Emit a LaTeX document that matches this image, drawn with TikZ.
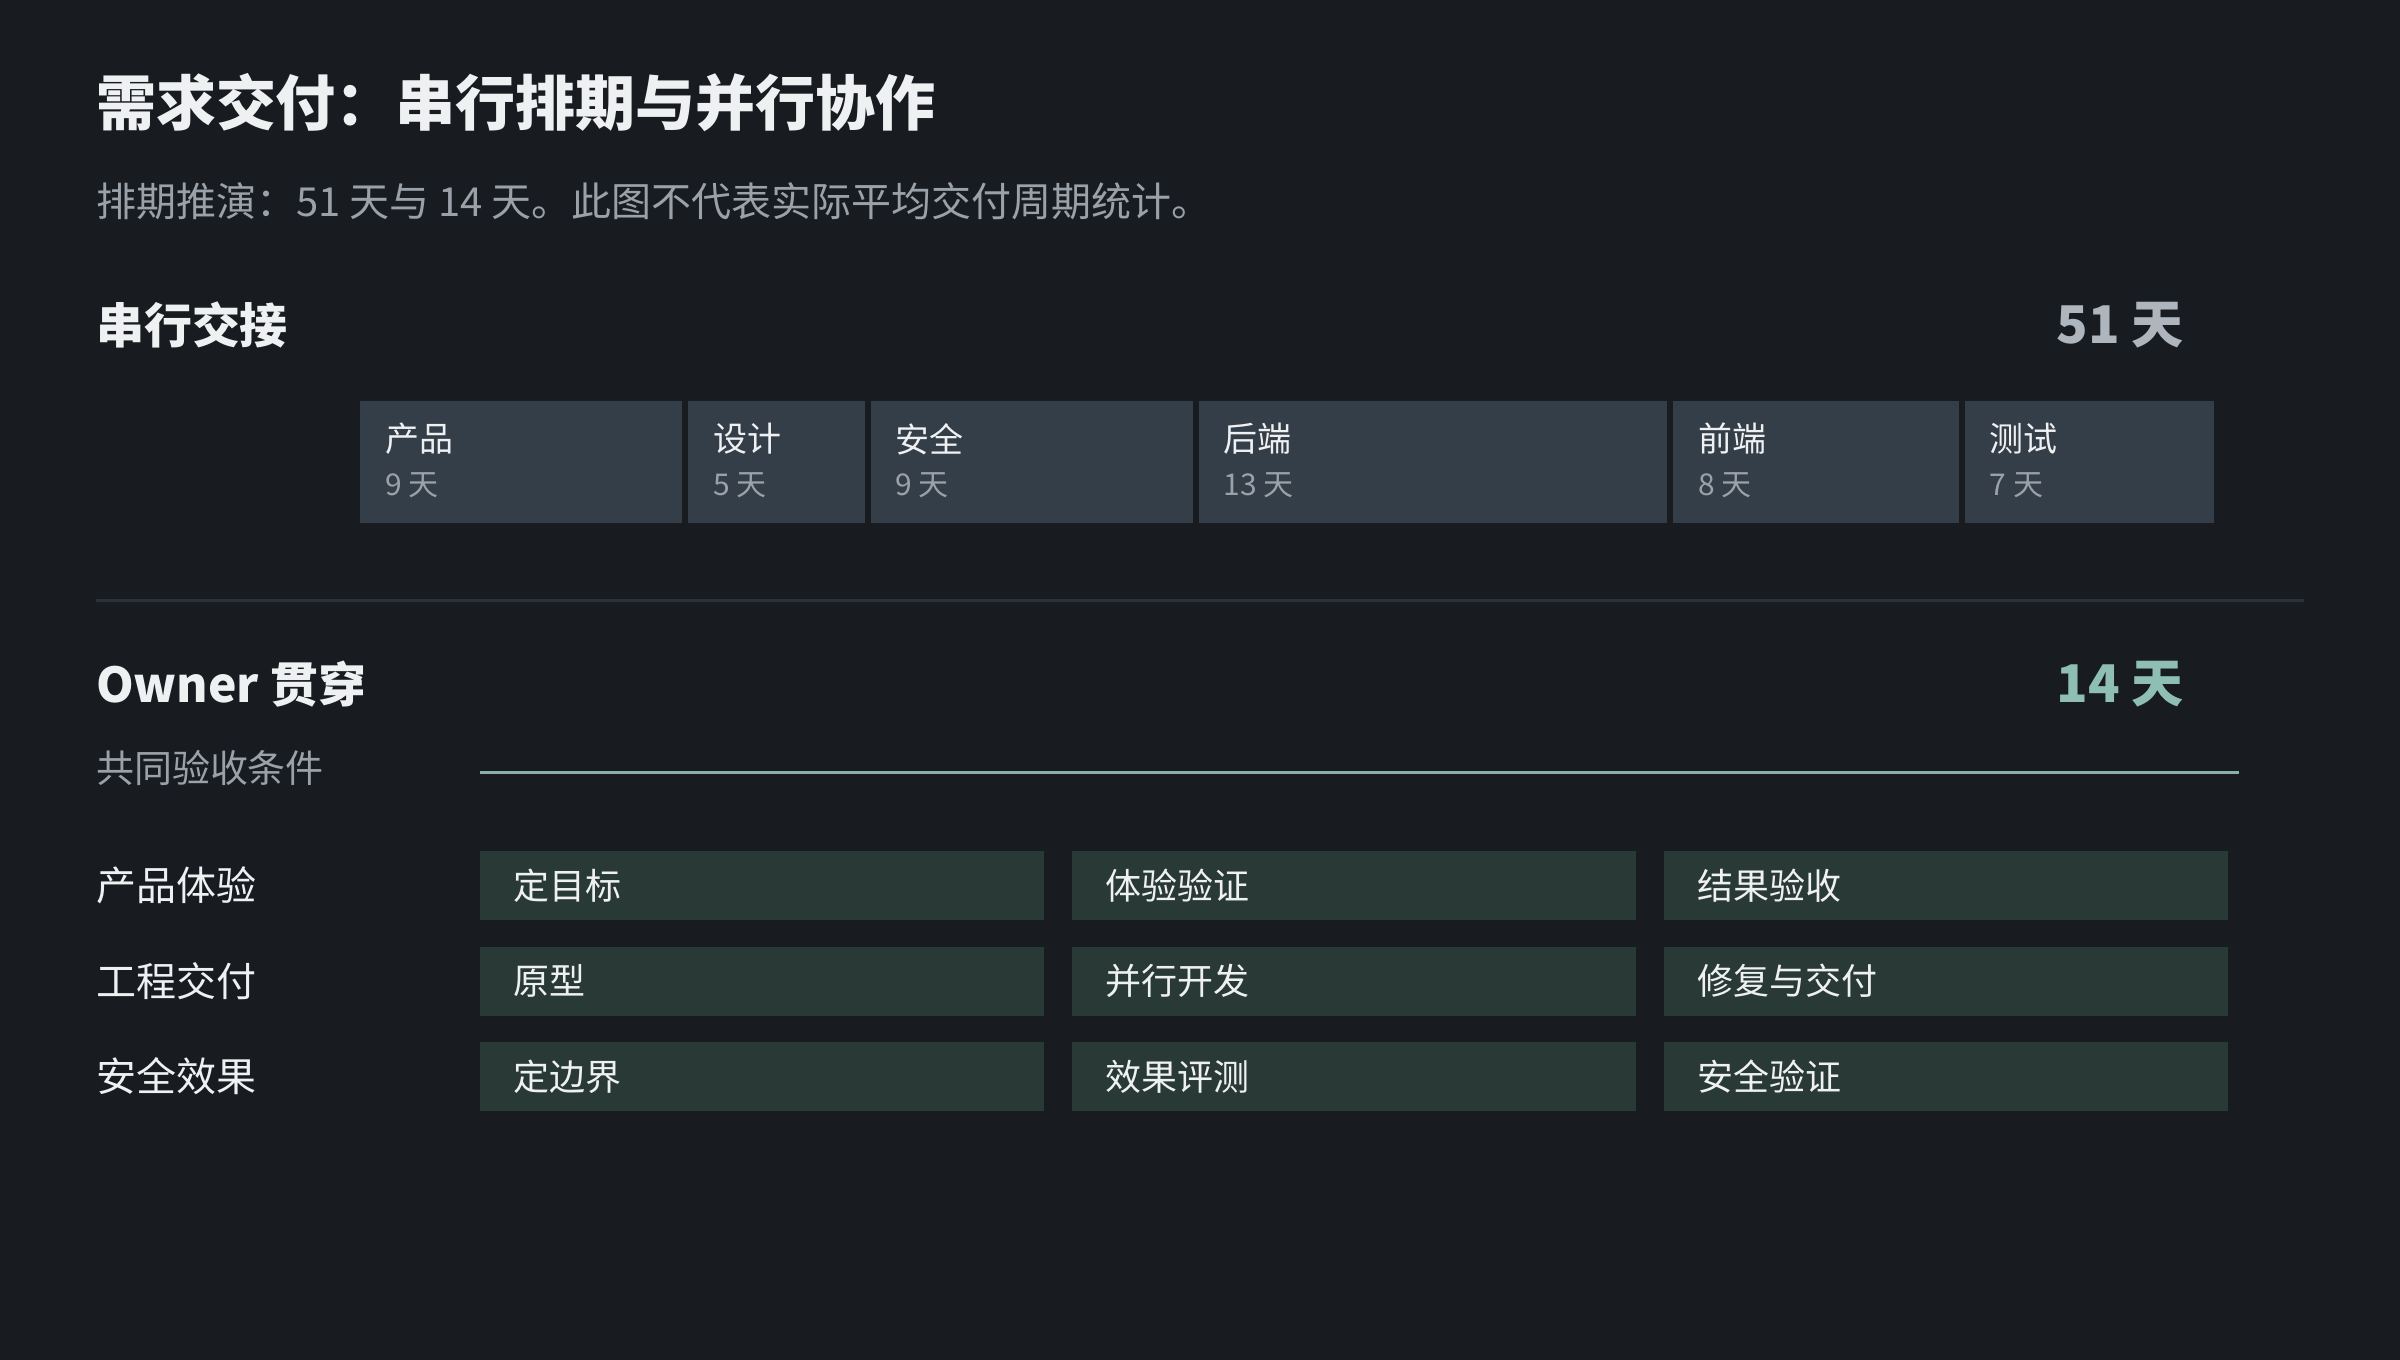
\documentclass[tikz,border=0pt]{standalone}
\usepackage{fontspec}
\setmainfont{Noto Sans CJK SC}
\usetikzlibrary{positioning}
\definecolor{bgcolor}{HTML}{181B20}
\definecolor{inkcolor}{HTML}{EEF0F2}
\definecolor{mutedcolor}{HTML}{9AA1A8}
\definecolor{totalcolor}{HTML}{AEB5BC}
\definecolor{segcolor}{HTML}{343E48}
\definecolor{rulecolor}{HTML}{2C3138}
\definecolor{tealcolor}{HTML}{8FBFB4}
\definecolor{cellcolor}{HTML}{293935}

\begin{document}
\begin{tikzpicture}[x=0.5pt,y=-0.5pt,
  every node/.style={inner sep=0pt, outer sep=0pt, text=inkcolor},
  heading/.style={anchor=west, font=\fontsize{24pt}{28pt}\selectfont\bfseries},
  total/.style={anchor=east, font=\fontsize{26pt}{30pt}\selectfont\bfseries},
  seg/.style={fill=segcolor, minimum height=61pt},
  segname/.style={anchor=west, font=\fontsize{17pt}{20pt}\selectfont},
  segdays/.style={anchor=west, text=mutedcolor, font=\fontsize{15pt}{18pt}\selectfont},
  rowlabel/.style={anchor=west, font=\fontsize{20pt}{24pt}\selectfont},
  cell/.style={fill=cellcolor, minimum height=34.5pt, text width=249pt, inner xsep=16.5pt, align=left, font=\fontsize{18pt}{22pt}\selectfont}]
  % canvas
  \fill[bgcolor] (0,0) rectangle (2400,1360);
  \useasboundingbox (0,0) rectangle (2400,1360);
  % title
  \node[anchor=west, font=\fontsize{30pt}{36pt}\selectfont\bfseries] (title) at (96,103) {需求交付：串行排期与并行协作};
  \node[anchor=west, text=mutedcolor, font=\fontsize{20pt}{24pt}\selectfont] (subtitle) at (96,201) {排期推演：51 天与 14 天。此图不代表实际平均交付周期统计。};
  % serial handoff
  \node[heading] (serial) at (96,325) {串行交接};
  \node[total, text=totalcolor] (serialtotal) at (2184,325) {51 天};
  \node[seg, anchor=north west, minimum width=161.1pt] (prod) at (360,401) {};
  \node[seg, minimum width=88.2pt, right=3pt of prod] (design) {};
  \node[seg, minimum width=161.1pt, right=3pt of design] (sec) {};
  \node[seg, minimum width=234.1pt, right=3pt of sec] (back) {};
  \node[seg, minimum width=142.9pt, right=3pt of back] (front) {};
  \node[seg, minimum width=124.6pt, right=3pt of front] (test) {};
  \node[segname] (prodname) at ([shift={(25,38)}]prod.north west) {产品};
  \node[segdays] (proddays) at ([shift={(25,84)}]prod.north west) {9 天};
  \node[segname] (designname) at ([shift={(25,38)}]design.north west) {设计};
  \node[segdays] (designdays) at ([shift={(25,84)}]design.north west) {5 天};
  \node[segname] (secname) at ([shift={(25,38)}]sec.north west) {安全};
  \node[segdays] (secdays) at ([shift={(25,84)}]sec.north west) {9 天};
  \node[segname] (backname) at ([shift={(25,38)}]back.north west) {后端};
  \node[segdays] (backdays) at ([shift={(25,84)}]back.north west) {13 天};
  \node[segname] (frontname) at ([shift={(25,38)}]front.north west) {前端};
  \node[segdays] (frontdays) at ([shift={(25,84)}]front.north west) {8 天};
  \node[segname] (testname) at ([shift={(25,38)}]test.north west) {测试};
  \node[segdays] (testdays) at ([shift={(25,84)}]test.north west) {7 天};
  % divider
  \coordinate (ruleL) at (96,600); \coordinate (ruleR) at (2304,600);
  \draw[rulecolor, line width=1.5pt] (ruleL) -- (ruleR);
  % owner throughout
  \node[heading] (owner) at (96,684) {Owner 贯穿};
  \node[total, text=tealcolor] (ownertotal) at (2184,684) {14 天};
  \node[anchor=west, text=mutedcolor, font=\fontsize{19pt}{23pt}\selectfont] (shared) at (96,768) {共同验收条件};
  \coordinate (sharedL) at (480,772); \coordinate (sharedR) at (2239,772);
  \draw[tealcolor!90!segcolor, line width=1.5pt] (sharedL) -- (sharedR);
  % tracks
  \node[cell, anchor=north west] (goal) at (480,851) {定目标};
  \node[cell, right=14pt of goal] (uxcheck) {体验验证};
  \node[cell, right=14pt of uxcheck] (accept) {结果验收};
  \node[cell, below=13.25pt of goal] (proto) {原型};
  \node[cell, right=14pt of proto] (paradev) {并行开发};
  \node[cell, right=14pt of paradev] (ship) {修复与交付};
  \node[cell, below=13.25pt of proto] (bound) {定边界};
  \node[cell, right=14pt of bound] (evals) {效果评测};
  \node[cell, right=14pt of evals] (secverify) {安全验证};
  \node[rowlabel] (rowux) at (96,885) {产品体验};
  \node[rowlabel] (roweng) at (96,981) {工程交付};
  \node[rowlabel] (rowsec) at (96,1076) {安全效果};
\end{tikzpicture}
\end{document}
